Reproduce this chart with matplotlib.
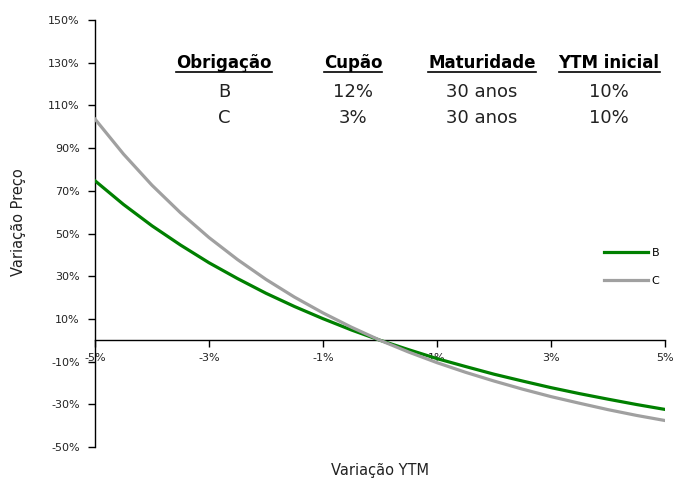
import matplotlib
matplotlib.use("Agg")
import matplotlib.pyplot as plt
from matplotlib.lines import Line2D

# Data (YTM change in %, price change in %)
ytm_change = [-5, -4.5, -4, -3.5, -3, -2.5, -2, -1.5, -1, -0.5, 0,
              0.5, 1, 1.5, 2, 2.5, 3, 3.5, 4, 4.5, 5]
bond_b = [74.7, 63.6, 53.6, 44.6, 36.3, 28.9, 22.0, 15.8, 10.1, 4.8, 0.0,
          -4.4, -8.6, -12.3, -15.9, -19.1, -22.2, -25.0, -27.6, -30.1, -32.4]
bond_c = [103.6, 87.2, 72.6, 59.7, 48.1, 37.8, 28.5, 20.2, 12.8, 6.1, 0.0,
          -5.5, -10.5, -15.0, -19.1, -22.9, -26.4, -29.5, -32.5, -35.2, -37.6]
series_names = ["B", "C"]
series_colors = ["#008000", "#A0A0A0"]

y_ticks = [-50, -30, -10, 10, 30, 50, 70, 90, 110, 130, 150]
x_ticks = [-5, -3, -1, 1, 3, 5]

table_header = ["Obrigação", "Cupão", "Maturidade", "YTM inicial"]
table_rows = [["B", "12%", "30 anos", "10%"],
              ["C", "3%", "30 anos", "10%"]]

W, H = 685, 484
fig = plt.figure(figsize=(W / 100, H / 100), dpi=100)
ax = fig.add_axes([95 / W, 1 - 447 / H, 570 / W, 427 / H])

for vals, name, col in zip([bond_b, bond_c], series_names, series_colors):
    ax.plot(ytm_change, vals, color=col, lw=2.3, label=name, zorder=3)

ax.set_xlim(-5, 5)
ax.set_ylim(-50, 150)
ax.set_yticks(y_ticks)
ax.set_yticklabels([f"{v}%" for v in y_ticks])
ax.set_xticks(x_ticks)
ax.set_xticklabels([f"{v}%" for v in x_ticks])

ax.spines['top'].set_visible(False)
ax.spines['right'].set_visible(False)
ax.spines['bottom'].set_position(('data', 0))
for s in ['left', 'bottom']:
    ax.spines[s].set_linewidth(1.0)
    ax.spines[s].set_color('black')
ax.tick_params(axis='both', direction='out', length=5, width=1.0,
               labelsize=8, colors='black', labelcolor='#222222')
ax.tick_params(axis='x', pad=4)
ax.tick_params(axis='y', pad=6)

fig.text(380 / W, 1 - 470 / H, "Variação YTM", ha='center', va='center',
         fontsize=10.5, color='#222222')
fig.text(19 / W, 1 - 222 / H, "Variação Preço", ha='center', va='center',
         rotation=90, fontsize=10.5, color='#222222')

leg = ax.legend(loc='center left', bbox_to_anchor=(604 / W, 1 - 267 / H),
                bbox_transform=fig.transFigure, frameon=False, fontsize=8,
                handlelength=4.0, handletextpad=0.3, labelspacing=1.6,
                borderpad=0, borderaxespad=0)

# Table text
col_x = [224, 353, 482, 609]
hdr_y = 63
row_y = [92, 118]
hdr_texts = []
for x, h in zip(col_x, table_header):
    t = fig.text(x / W, 1 - hdr_y / H, h, ha='center', va='center',
                 fontsize=12, fontweight='bold', color='black')
    hdr_texts.append(t)
for r, yy in zip(table_rows, row_y):
    for x, v in zip(col_x, r):
        fig.text(x / W, 1 - yy / H, v, ha='center', va='center',
                 fontsize=13, color='#222222')

fig.canvas.draw()
renderer = fig.canvas.get_renderer()
for t in hdr_texts:
    bb = t.get_window_extent(renderer)
    yline = 1 - (hdr_y + 9) / H
    fig.add_artist(Line2D([bb.x0 / W, bb.x1 / W], [yline, yline],
                          transform=fig.transFigure, color='black', lw=1.2))

fig.savefig("out.png", dpi=100)
